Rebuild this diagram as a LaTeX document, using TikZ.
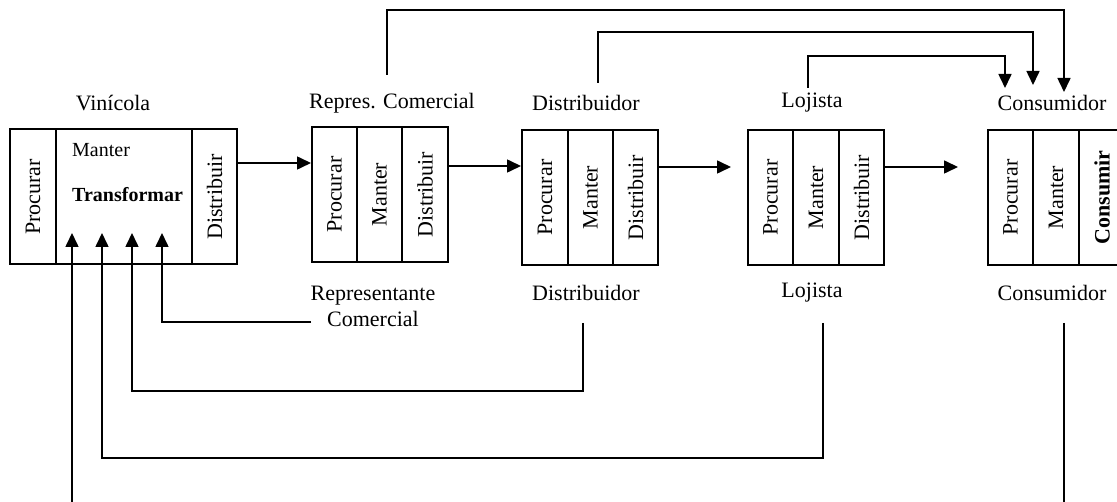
\documentclass[tikz,border=0pt]{standalone}
\usepackage{fontspec}
\setmainfont{Liberation Serif}
\usetikzlibrary{arrows.meta,calc}
\tikzset{
  col/.style={draw, line width=2pt, inner sep=0pt, minimum height=135pt,
    font=\fontsize{22}{26}\selectfont},
  lbl/.style={inner sep=1pt, font=\fontsize{22}{26}\selectfont, align=center},
  conn/.style={line width=1.6pt},
  arr/.style={conn, -{Triangle[length=14pt,width=13pt]}},
}
\begin{document}
\begin{tikzpicture}[x=1pt,y=-1pt]
\useasboundingbox (0,0) rectangle (1117,502);

% Vinicola
\node[col, minimum width=46pt]  (vP) at (33,197) {\rotatebox{90}{Procurar}};
\node[col, minimum width=136pt] (vM) at (124,197) {};
\node[col, minimum width=45pt]  (vD) at (214.5,197) {\rotatebox{90}{Distribuir}};
\node[anchor=base west, inner sep=0pt, font=\fontsize{20}{24}\selectfont] (vMan) at (72,157) {Manter};
\node[anchor=base west, inner sep=0pt, font=\fontsize{20}{24}\selectfont\bfseries] (vTra) at (72,202) {Transformar};

% Representante comercial
\node[col, minimum width=45pt] (rP) at (334.5,194.5) {\rotatebox{90}{Procurar}};
\node[col, minimum width=45pt] (rM) at (379.5,194.5) {\rotatebox{90}{Manter}};
\node[col, minimum width=46pt] (rD) at (425,194.5) {\rotatebox{90}{Distribuir}};

% Distribuidor
\node[col, minimum width=46pt] (dP) at (545,197.5) {\rotatebox{90}{Procurar}};
\node[col, minimum width=45pt] (dM) at (590.5,197.5) {\rotatebox{90}{Manter}};
\node[col, minimum width=45pt] (dD) at (635.5,197.5) {\rotatebox{90}{Distribuir}};

% Lojista
\node[col, minimum width=45pt] (lP) at (770.5,197.5) {\rotatebox{90}{Procurar}};
\node[col, minimum width=46pt] (lM) at (816,197.5) {\rotatebox{90}{Manter}};
\node[col, minimum width=45pt] (lD) at (861.5,197.5) {\rotatebox{90}{Distribuir}};

% Consumidor
\node[col, minimum width=45pt] (cP) at (1010.5,197.5) {\rotatebox{90}{Procurar}};
\node[col, minimum width=46pt] (cM) at (1056,197.5) {\rotatebox{90}{Manter}};
\node[col, minimum width=46pt] (cC) at (1102,197.5) {\rotatebox{90}{\bfseries Consumir}};

% labels above
\node[lbl] (tV) at (113,103) {Vinícola};
\node[lbl] (tR) at (392,103) {Repres. Comercial};
\node[lbl] (tD) at (586,103) {Distribuidor};
\node[lbl] (tL) at (812,103) {Lojista};
\node[lbl] (tC) at (1052,103) {Consumidor};

% labels below
\node[lbl] (bR) at (373,306) {Representante\\Comercial};
\node[lbl] (bD) at (586,293) {Distribuidor};
\node[lbl] (bL) at (812,293) {Lojista};
\node[lbl] (bC) at (1052,293) {Consumidor};

% flow along the chain
\draw[arr] ([yshift=34pt]vD.east) -- ([yshift=34pt]vD.east -| rP.west);
\draw[arr] ([yshift=28.5pt]rD.east) -- ([yshift=28.5pt]rD.east -| dP.west);
\draw[arr] ([yshift=30.5pt]dD.east) -- ([yshift=30.5pt,xshift=-16pt]dD.east -| lP.west);
\draw[arr] ([yshift=30.5pt]lD.east) -- ([yshift=30.5pt,xshift=-29pt]lD.east -| cP.west);

% feedback lines to the consumer
\coordinate (sR) at (387,75);
\coordinate (sD) at (598,83);
\coordinate (sL) at (808,88);
\coordinate (aC3) at (1064,92);
\coordinate (aC2) at (1033,85);
\coordinate (aC1) at (1005,88);
\draw[arr] (sR) -- (sR |- 0,10) -| (aC3);
\draw[arr] (sD) -- (sD |- 0,32) -| (aC2);
\draw[arr] (sL) -- (sL |- 0,56) -| (aC1);

% feedback lines into the winery
\coordinate (t1) at (72,233);
\coordinate (t2) at (102,233);
\coordinate (t3) at (132,233);
\coordinate (t4) at (162,233);
\coordinate (eR) at (311,322);
\coordinate (sDb) at (583,323);
\coordinate (sLb) at (823,323);
\coordinate (sCb) at (1064,323);
\coordinate (eC) at (1064,505);
\coordinate (eV) at (72,505);
\draw[arr] (eR) -| (t4);
\draw[arr] (sDb) -- (sDb |- 0,391) -| (t3);
\draw[arr] (sLb) -- (sLb |- 0,458) -| (t2);
\draw[arr] (eV) -- (t1);
\draw[conn] (sCb) -- (eC);
\end{tikzpicture}
\end{document}
